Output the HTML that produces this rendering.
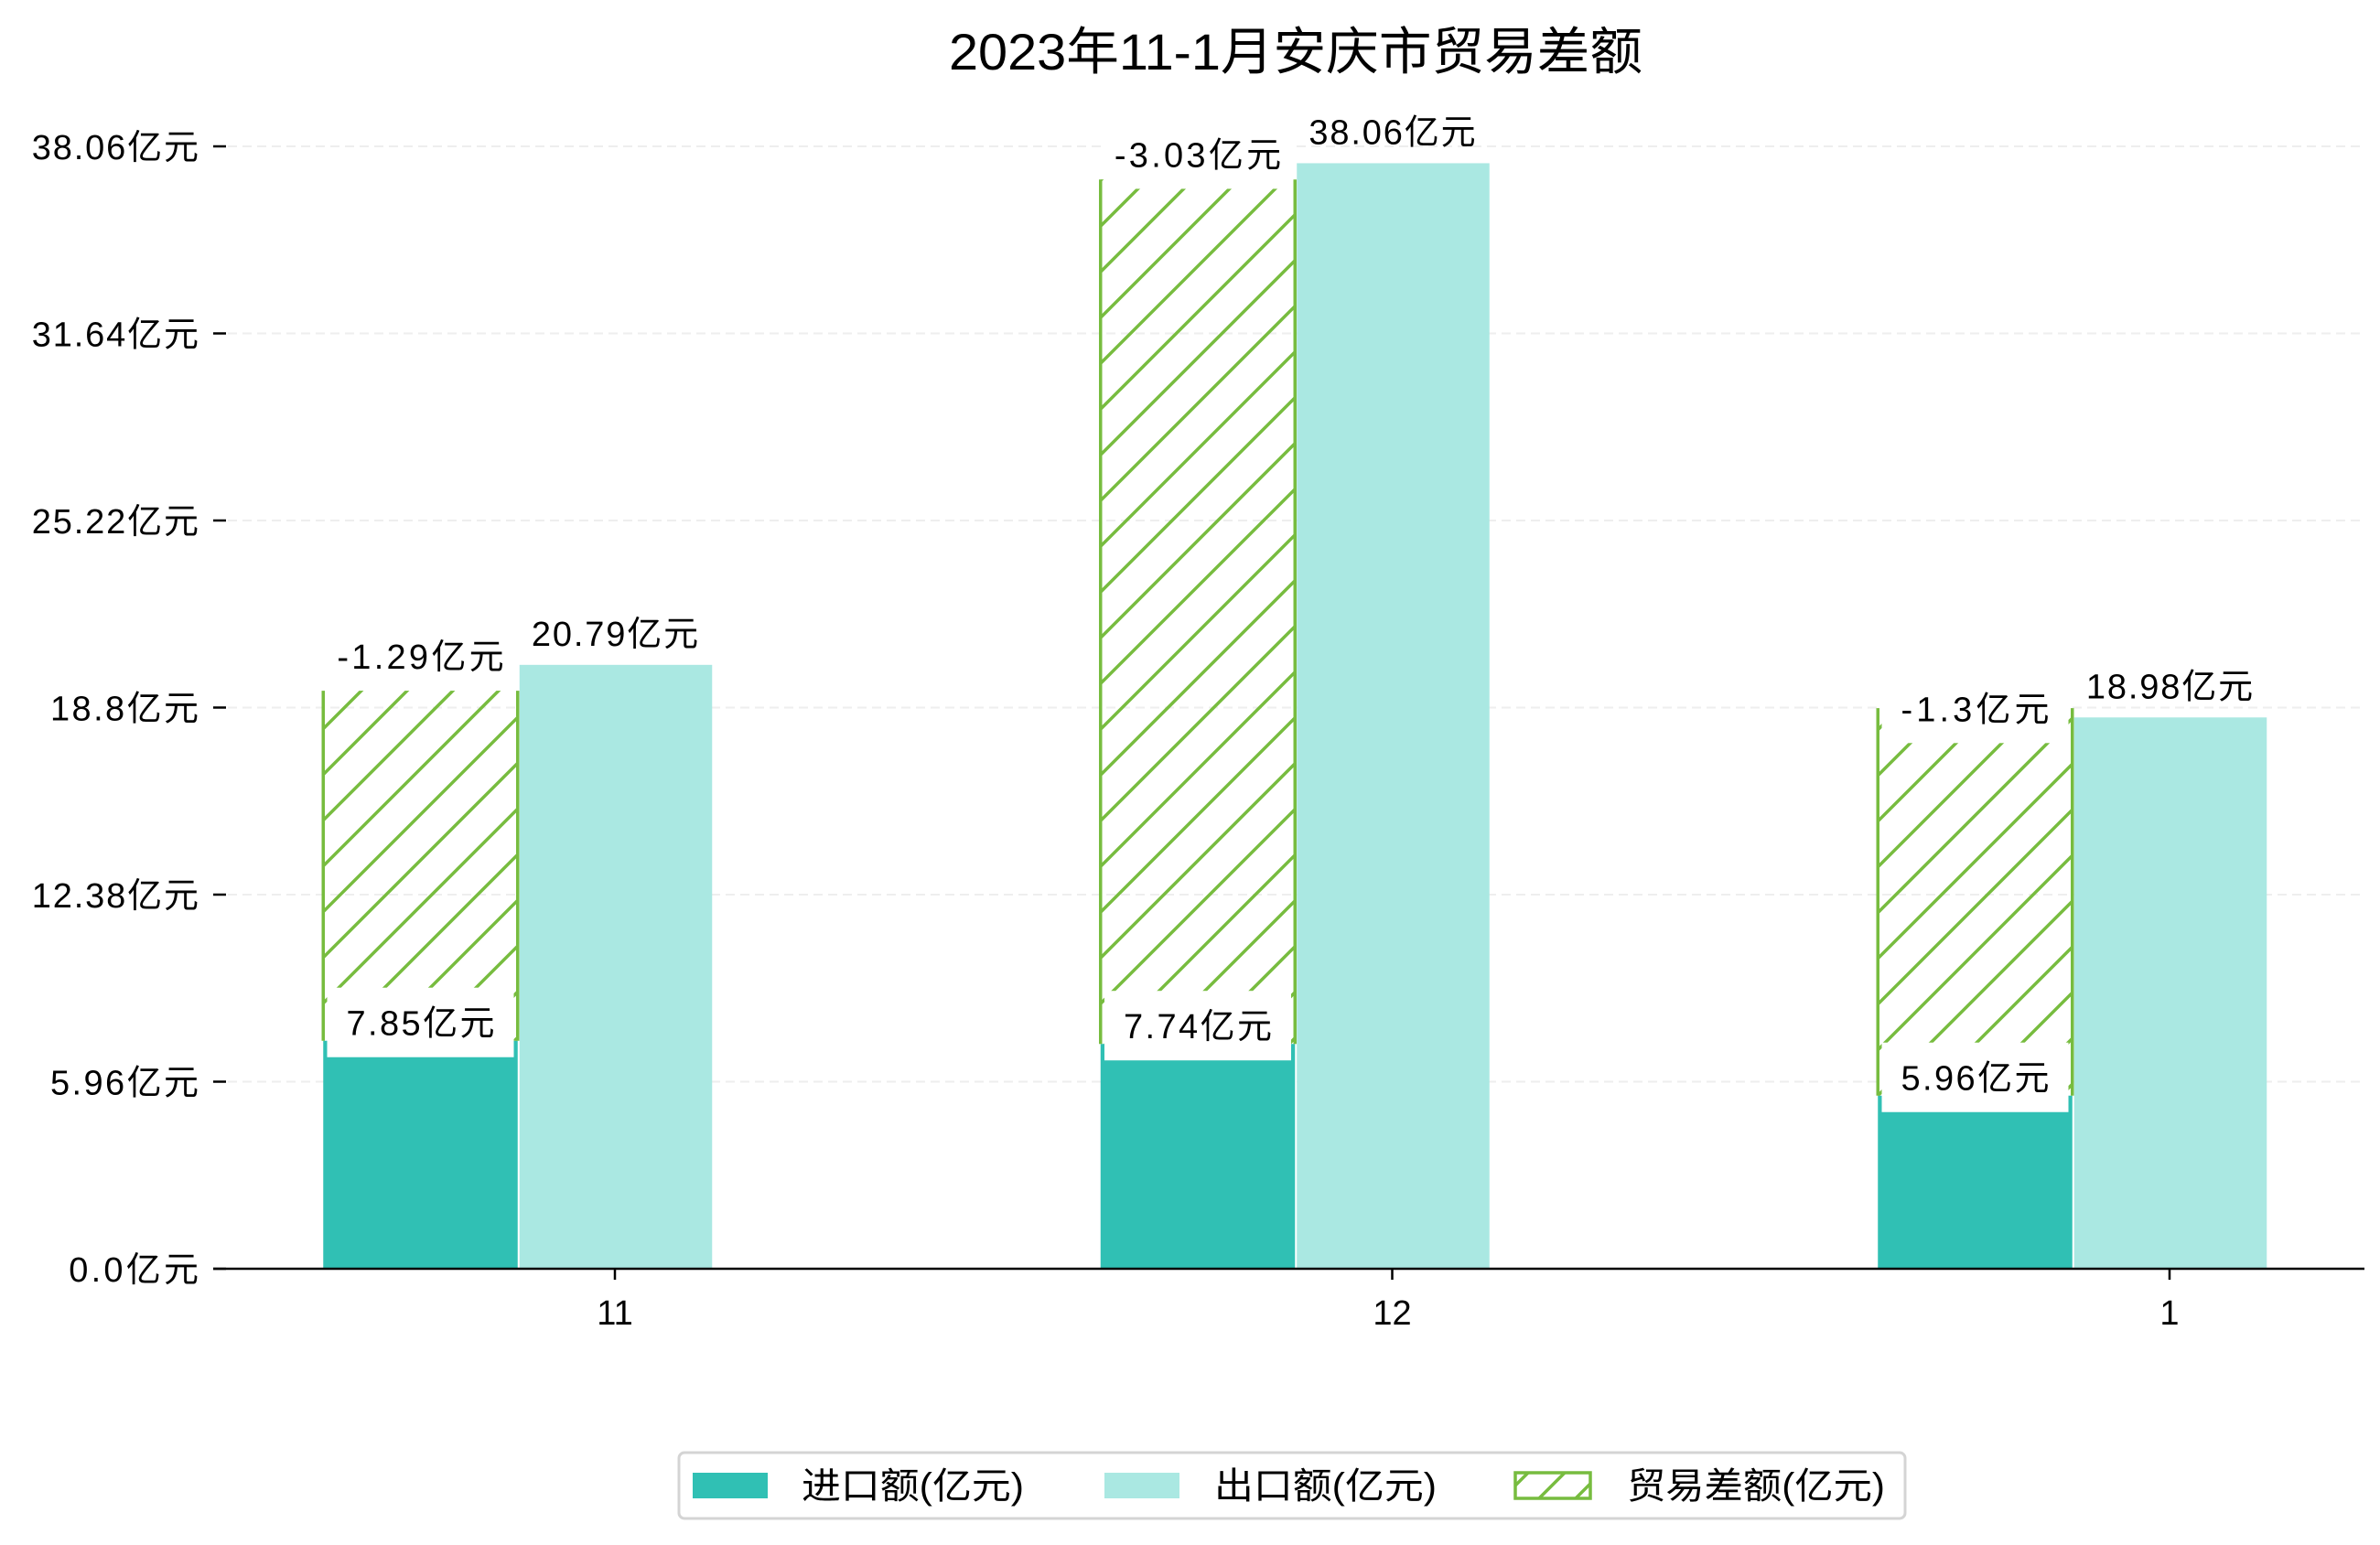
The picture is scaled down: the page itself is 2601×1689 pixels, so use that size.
<!DOCTYPE html>
<html><head><meta charset="utf-8"><style>
html,body{margin:0;padding:0;background:#fff}
svg{display:block}
text{font-family:"Liberation Sans","WenQuanYi Zen Hei","Noto Sans CJK SC",sans-serif;fill:#000}
</style></head><body>
<svg id="chart" width="2601" height="1689" viewBox="0 0 2601 1689" xmlns="http://www.w3.org/2000/svg">
<defs>
<pattern id="hatch" patternUnits="userSpaceOnUse" width="50" height="50">
<path d="M0,50 L50,0 M-10,10 L10,-10 M40,60 L60,40" stroke="#77bc3f" stroke-width="3.5"/>
</pattern>
<pattern id="hatchLegend" patternUnits="userSpaceOnUse" width="40" height="40">
<path d="M0,40 L40,0 M-10,10 L10,-10 M30,50 L50,30" stroke="#77bc3f" stroke-width="3.5"/>
</pattern>
</defs>
<text x="1416" y="76" font-size="56" text-anchor="middle" textLength="758" lengthAdjust="spacingAndGlyphs">2023年11-1月安庆市贸易差额</text>
<g id="grid"></g><g id="bars"></g><g id="axes"></g><g id="labels"></g>
<g>
<rect x="742" y="1588" width="1340" height="72" rx="6" fill="#fff" stroke="#d4d4d4" stroke-width="3"/>
<rect x="757" y="1610" width="82" height="28" fill="#30c0b4"/>
<text x="876" y="1638" font-size="40" textLength="243" lengthAdjust="spacingAndGlyphs">进口额(亿元)</text>
<rect x="1207" y="1610" width="82" height="28" fill="#aae8e2"/>
<text x="1327" y="1638" font-size="40" textLength="243" lengthAdjust="spacingAndGlyphs">出口额(亿元)</text>
<rect x="1656" y="1610" width="82" height="28" fill="url(#hatchLegend)" stroke="#77bc3f" stroke-width="3.5"/>
<text x="1778" y="1638" font-size="40" textLength="282" lengthAdjust="spacingAndGlyphs">贸易差额(亿元)</text>
</g>
</svg>
<script>
const categories = ["11", "12", "1"];
const importVals = [7.85, 7.74, 5.96];
const exportVals = [20.79, 38.06, 18.98];
const balanceVals = [-1.29, -3.03, -1.3];
const balanceTop = [19.9, 37.5, 19.3];
const tickLabels = ["0.0亿元", "5.96亿元", "12.38亿元", "18.8亿元", "25.22亿元", "31.64亿元", "38.06亿元"];
const yMax = 38.64;

const NS = "http://www.w3.org/2000/svg";
const baseY = 1387, plotH = 1227, left = 233, right = 2584;
const bandStart = 672, bandStep = 849.5, barW = 212.5;
function y(v){ return baseY - v / yMax * plotH; }
function xc(i){ return bandStart + i * bandStep; }
function textW(s, em){ let w = 0; for (const ch of s) w += ch.charCodeAt(0) < 128 ? 0.5 : 1; return w * em; }
function mk(tag, attrs, parent){ const e = document.createElementNS(NS, tag); for (const k in attrs) e.setAttribute(k, attrs[k]); parent.appendChild(e); return e; }
const grid = document.getElementById('grid'), bars = document.getElementById('bars'), axes = document.getElementById('axes'), labels = document.getElementById('labels');

tickLabels.forEach((lab, i) => {
  const v = i * yMax / (tickLabels.length - 1);
  const yy = y(v);
  if (i > 0) {
    const g = mk('line', {x1:left, x2:right, y1:yy, y2:yy, stroke:'#eeeeee', 'stroke-width':2, 'stroke-dasharray':'10,6'}, grid);
    
    
  }
  const t = mk('line', {x1:left, x2:left+14, y1:yy, y2:yy, stroke:'#000', 'stroke-width':2.5}, axes);
  
  
  const tx = mk('text', {x:217, y:yy+14, 'font-size':38, 'text-anchor':'end', textLength:textW(lab, 40.5), lengthAdjust:'spacing'}, axes);
  tx.textContent = lab;
  
  
});
const ax = mk('line', {x1:left, x2:right, y1:baseY, y2:baseY, stroke:'#000', 'stroke-width':2.5}, axes);



function labelText(txt, cx, cy, boxW, name){
  if (boxW) {
    const b = mk('rect', {x:cx-boxW/2, y:cy-38, width:boxW, height:76, fill:'#fff'}, labels);
    
    
  }
  const t = mk('text', {x:cx, y:cy+14, 'font-size':38, 'text-anchor':'middle', textLength:textW(txt, 40.5), lengthAdjust:'spacing'}, labels);
  t.textContent = txt;
  
  
}

categories.forEach((c, i) => {
  const cx = xc(i);
  const ix = cx - 1.5 * barW, ex = cx - 0.5 * barW;
  const ib = mk('rect', {x:ix, y:y(importVals[i]), width:barW, height:baseY - y(importVals[i]), fill:'#30c0b4'}, bars);
  
  
  const eb = mk('rect', {x:ex+2, y:y(exportVals[i]), width:barW-2, height:baseY - y(exportVals[i]), fill:'#aae8e2'}, bars);
  
  
  const top = y(balanceTop[i]), bot = y(importVals[i]);
  const hb = mk('rect', {x:ix, y:top, width:barW, height:bot - top, fill:'url(#hatch)'}, bars);
  
  
  const hl = mk('path', {d:'M' + ix + ',' + top + ' V' + bot + ' M' + (ix + barW) + ',' + top + ' V' + bot, stroke:'#77bc3f', 'stroke-width':3.5, fill:'none'}, bars);
  
  
  const xt = mk('line', {x1:cx, x2:cx, y1:baseY, y2:baseY+12, stroke:'#000', 'stroke-width':2.5}, axes);
  
  
  const xl = mk('text', {x:cx, y:1448, 'font-size':38, 'text-anchor':'middle'}, axes);
  xl.textContent = c;
  
  

  labelText(importVals[i] + '亿元', ix + barW/2, y(importVals[i]) - 20, 204, 'import-value-label');
  labelText(balanceVals[i] + '亿元', ix + barW/2, y(exportVals[i]) - 10, 204, 'balance-value-label');
  labelText(exportVals[i] + '亿元', cx, y(exportVals[i]) - 35, 0, 'export-value-label');
});
</script>
</body></html>
